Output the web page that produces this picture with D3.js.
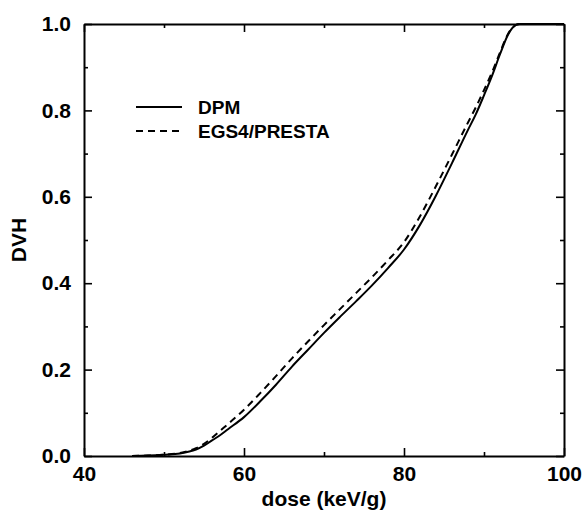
<!DOCTYPE html>
<html>
<head>
<meta charset="utf-8">
<script src="https://cdn.jsdelivr.net/npm/d3@7"></script>
<style>
  body { margin: 0; background: #fff; }
  text { font-family: "Liberation Sans", Arial, Helvetica, sans-serif; font-weight: bold; }
</style>
</head>
<body>
<div id="chart"></div>
<script>
// dose values (keV/g) and cumulative DVH for both codes
const dose = [46, 48, 50, 52, 54, 55, 56, 57, 58, 60, 62, 64, 66, 68, 70, 72, 74, 76, 78, 80,
              82, 84, 86, 88, 89, 90, 91, 92, 93, 93.5, 94, 94.5, 95, 100]
const dpm = [0, 0.001, 0.003, 0.006, 0.015, 0.024, 0.036, 0.048, 0.062, 0.09, 0.126, 0.165, 0.207, 0.246, 0.285, 0.322, 0.358, 0.395, 0.435, 0.478,
             0.535, 0.603, 0.678, 0.755, 0.792, 0.835, 0.88, 0.93, 0.975, 0.99, 0.998, 1.0, 1.0, 1.0]
const egs = [0, 0.001, 0.003, 0.007, 0.018, 0.028, 0.042, 0.058, 0.074, 0.107, 0.145, 0.185, 0.226, 0.265, 0.303, 0.34, 0.377, 0.414, 0.453, 0.495,
             0.555, 0.625, 0.698, 0.772, 0.808, 0.847, 0.888, 0.934, 0.977, 0.99, 0.998, 1.0, 1.0, 1.0]
const xTicks = [40, 60, 80, 100]
const xMinor = [50, 70, 90]
const yTicks = [0, 0.2, 0.4, 0.6, 0.8, 1.0]
const yMinor = [0.1, 0.3, 0.5, 0.7, 0.9]
const series = [
    { name: "DPM", values: dpm, dash: null },
    { name: "EGS4/PRESTA", values: egs, dash: "7,5" }
]

const config = {
    width: 583,
    height: 512,
    left: 84,
    right: 564,
    top: 24,
    bottom: 456,
    fontSize: 21
}

const x = d3.scaleLinear().domain([40, 100]).range([config.left, config.right])
const y = d3.scaleLinear().domain([0, 1]).range([config.bottom, config.top])

const svg = d3.select("#chart")
    .append("svg")
    .attr("width", config.width)
    .attr("height", config.height)
    .style("background", "#FFF")

// axes: ticks pointing inward on all four sides
function addAxis(axis, tx, ty) {
    const g = svg.append("g").attr("transform", `translate(${tx},${ty})`).call(axis)
    g.selectAll("path, line").attr("stroke", "#000").attr("stroke-width", 1.6)
    g.select(".domain").attr("stroke-width", 2)
    return g
}

addAxis(d3.axisBottom(x).tickValues(xTicks).tickSizeInner(-8).tickSizeOuter(0).tickFormat(d3.format("d")).tickPadding(10), 0, config.bottom)
addAxis(d3.axisBottom(x).tickValues(xMinor).tickSizeInner(-4).tickSizeOuter(0).tickFormat(""), 0, config.bottom).select(".domain").remove()
addAxis(d3.axisTop(x).tickValues(xTicks).tickSizeInner(-8).tickSizeOuter(0).tickFormat(""), 0, config.top)
addAxis(d3.axisTop(x).tickValues(xMinor).tickSizeInner(-4).tickSizeOuter(0).tickFormat(""), 0, config.top).select(".domain").remove()

addAxis(d3.axisLeft(y).tickValues(yTicks).tickSizeInner(-8).tickSizeOuter(0).tickFormat(d3.format(".1f")).tickPadding(13), config.left, 0)
addAxis(d3.axisLeft(y).tickValues(yMinor).tickSizeInner(-4).tickSizeOuter(0).tickFormat(""), config.left, 0).select(".domain").remove()
addAxis(d3.axisRight(y).tickValues(yTicks).tickSizeInner(-8).tickSizeOuter(0).tickFormat(""), config.right, 0)
addAxis(d3.axisRight(y).tickValues(yMinor).tickSizeInner(-4).tickSizeOuter(0).tickFormat(""), config.right, 0).select(".domain").remove()

svg.selectAll(".tick text")
    .attr("fill", "#000")
    .style("font-size", config.fontSize + "px")
    .style("font-family", '"Liberation Sans", Arial, sans-serif')
    .style("font-weight", "bold")

// curves
const line = d3.line()
    .x((d, i) => x(dose[i]))
    .y(d => y(d))
    .curve(d3.curveMonotoneX)

svg.append("g")
    .selectAll("path")
    .data(series)
    .enter()
    .append("path")
    .attr("d", s => line(s.values))
    .attr("fill", "none")
    .attr("stroke", "#000")
    .attr("stroke-width", 2)
    .attr("stroke-dasharray", s => s.dash)

// legend
const legend = svg.append("g")
series.forEach((s, i) => {
    const ly = 107 + i * 24
    legend.append("line")
        .attr("x1", 136).attr("x2", 182)
        .attr("y1", ly).attr("y2", ly)
        .attr("stroke", "#000")
        .attr("stroke-width", 2)
        .attr("stroke-dasharray", s.dash)
    legend.append("text")
        .attr("x", 198).attr("y", ly)
        .attr("dy", "0.35em")
        .style("font-size", "19px")
        .text(s.name)
})

// axis titles
svg.append("text")
    .attr("x", (config.left + config.right) / 2)
    .attr("y", 506)
    .attr("text-anchor", "middle")
    .style("font-size", config.fontSize + "px")
    .text("dose (keV/g)")

svg.append("text")
    .attr("transform", `translate(26,${(config.top + config.bottom) / 2}) rotate(-90)`)
    .attr("text-anchor", "middle")
    .style("font-size", config.fontSize + "px")
    .text("DVH")
</script>
</body>
</html>
